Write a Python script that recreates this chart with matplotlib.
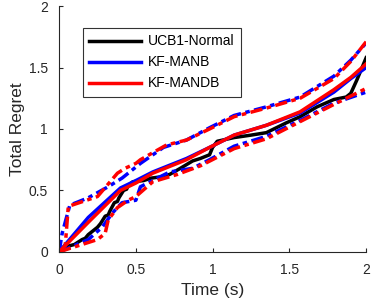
import matplotlib
matplotlib.use("Agg")
import matplotlib.pyplot as plt

plt.rcParams['font.family'] = ['Liberation Sans', 'DejaVu Sans']

# UCB1-Normal (mean)
ucb_t = [0, 0.04, 0.10, 0.15, 0.17, 0.19, 0.23, 0.25, 0.27, 0.30, 0.32, 0.33, 0.36, 0.38, 0.39,
         0.42, 0.44, 0.45, 0.48, 0.55, 0.60, 0.66, 0.72, 0.79, 0.87, 0.92, 0.98, 1.00, 1.03, 1.14,
         1.25, 1.35, 1.48, 1.57, 1.68, 1.79, 1.87, 1.90, 1.94, 1.97, 2.00]
ucb_r = [0, 0.04, 0.06, 0.10, 0.11, 0.14, 0.18, 0.20, 0.23, 0.29, 0.30, 0.33, 0.40, 0.41, 0.44,
         0.50, 0.51, 0.54, 0.57, 0.58, 0.60, 0.61, 0.63, 0.68, 0.74, 0.76, 0.79, 0.85, 0.90, 0.93,
         0.95, 0.97, 1.05, 1.10, 1.18, 1.24, 1.26, 1.29, 1.40, 1.49, 1.58]

# KF-MANB: mean, upper and lower bounds
manb_t = [0, 0.19, 0.40, 0.50, 0.61, 0.83, 0.98, 1.14, 1.35, 1.57, 1.79, 1.90, 2.00]
manb_m = [0, 0.28, 0.52, 0.58, 0.65, 0.76, 0.85, 0.95, 1.03, 1.13, 1.30, 1.41, 1.50]
manb_hi_t = [0, 0.02, 0.07, 0.19, 0.32, 0.41, 0.53, 0.68, 0.83, 0.98, 1.14, 1.35, 1.57, 1.79,
             1.90, 2.00]
manb_hi = [0, 0.15, 0.38, 0.44, 0.53, 0.60, 0.72, 0.85, 0.91, 1.01, 1.11, 1.18, 1.26, 1.43,
           1.56, 1.70]
manb_lo_t = [0, 0.06, 0.19, 0.28, 0.35, 0.41, 0.50, 0.53, 0.72, 0.87, 0.98, 1.14, 1.35, 1.57,
             1.79, 2.00]
manb_lo = [0, 0.03, 0.10, 0.20, 0.32, 0.40, 0.42, 0.53, 0.65, 0.68, 0.75, 0.86, 0.94, 1.07,
           1.21, 1.30]

# KF-MANDB: mean, upper and lower bounds
mandb_t = [0, 0.19, 0.40, 0.50, 0.61, 0.83, 0.98, 1.14, 1.35, 1.57, 1.79, 1.90, 2.00]
mandb_m = [0, 0.24, 0.50, 0.56, 0.64, 0.75, 0.85, 0.95, 1.03, 1.14, 1.32, 1.42, 1.53]
mandb_hi_t = [0, 0.04, 0.06, 0.25, 0.38, 0.43, 0.50, 0.53, 0.70, 0.83, 0.98, 1.14, 1.35, 1.57,
              1.79, 1.90, 2.00]
mandb_hi = [0, 0.05, 0.37, 0.45, 0.64, 0.68, 0.72, 0.75, 0.87, 0.91, 1.00, 1.10, 1.17, 1.25,
            1.41, 1.55, 1.71]
mandb_lo_t = [0, 0.10, 0.25, 0.30, 0.32, 0.38, 0.45, 0.50, 0.61, 0.77, 0.92, 1.14, 1.35, 1.57,
              1.79, 2.00]
mandb_lo = [0, 0.04, 0.10, 0.15, 0.26, 0.36, 0.42, 0.45, 0.57, 0.63, 0.70, 0.84, 0.92, 1.06,
            1.20, 1.33]

fig = plt.figure(figsize=(3.74, 3.06), dpi=100)
ax = fig.add_axes([0.158, 0.177, 0.821, 0.803])

lw = 2.5
dd = (0, (3.5, 1.3, 1.3, 1.3))
ax.plot(ucb_t, ucb_r, color='black', lw=lw, label='UCB1-Normal')
ax.plot(manb_t, manb_m, color='blue', lw=lw, label='KF-MANB')
ax.plot(mandb_t, mandb_m, color='red', lw=lw, label='KF-MANDB')
ax.plot(manb_hi_t, manb_hi, color='blue', lw=lw, linestyle=dd)
ax.plot(manb_lo_t, manb_lo, color='blue', lw=lw, linestyle=dd)
ax.plot(mandb_hi_t, mandb_hi, color='red', lw=lw, linestyle=dd)
ax.plot(mandb_lo_t, mandb_lo, color='red', lw=lw, linestyle=dd)

ax.set_xlim(0, 2)
ax.set_ylim(0, 2)
ax.set_xticks([0, 0.5, 1, 1.5, 2])
ax.set_xticklabels(['0', '0.5', '1', '1.5', '2'])
ax.set_yticks([0, 0.5, 1, 1.5, 2])
ax.set_yticklabels(['0', '0.5', '1', '1.5', '2'])
for s in ['top', 'right']:
    ax.spines[s].set_visible(False)
for s in ['left', 'bottom']:
    ax.spines[s].set_color('#262626')
    ax.spines[s].set_linewidth(0.8)
ax.tick_params(direction='in', length=3, width=0.8, colors='#262626', labelsize=10, pad=8)
ax.set_xlabel('Time (s)', fontsize=12.5, color='#262626', labelpad=4)
ax.set_ylabel('Total Regret', fontsize=12.5, color='#262626', labelpad=3)

leg = ax.legend(loc='upper left', bbox_to_anchor=(0.078, 0.91), fontsize=10,
                frameon=True, fancybox=False, edgecolor='black', handlelength=3.7,
                borderpad=0.45, labelspacing=0.5, handletextpad=0.5, borderaxespad=0)
leg.get_frame().set_linewidth(0.8)

fig.savefig('out.png', dpi=100)
